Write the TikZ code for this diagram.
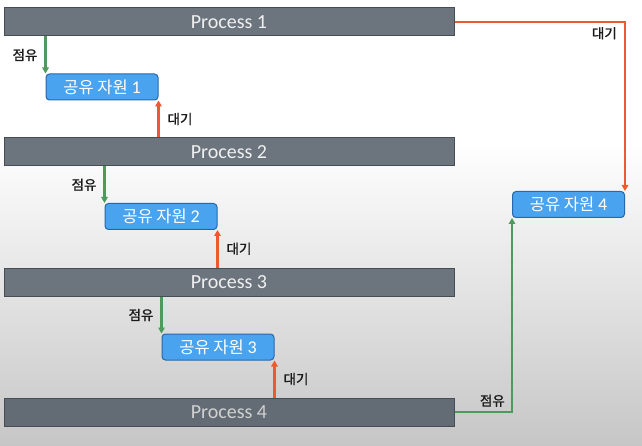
\documentclass[tikz,border=0pt]{standalone}
\usepackage{fontspec}
\setmainfont{Carlito}
\newfontfamily\kr{Noto Sans CJK KR}
\newfontfamily\krb[FakeBold=1.2]{Noto Sans CJK KR}
\usetikzlibrary{arrows.meta}
\definecolor{bargray}{HTML}{6C757E}
\definecolor{barborder}{HTML}{474D54}
\definecolor{resblue}{HTML}{4AA3EE}
\definecolor{resborder}{HTML}{2767AD}
\definecolor{occgreen}{HTML}{4E9A5C}
\definecolor{waitred}{HTML}{EE5A2F}
\definecolor{bgbottom}{HTML}{C6C6C6}
\definecolor{lbl}{HTML}{1A1A1A}
\newcommand{\resnum}[1]{{\fontsize{18}{18}\selectfont #1}}
\begin{document}
\begin{tikzpicture}[x=1pt,y=-1pt,
  proc/.style={draw=barborder, line width=1pt, fill=bargray, minimum width=450pt, minimum height=28pt,
    inner sep=0pt, text=white!94!black, font=\fontsize{20}{20}\selectfont},
  res/.style={draw=resborder, line width=1pt, fill=resblue, rounded corners=3.5pt, minimum width=112pt,
    minimum height=26pt, inner sep=0pt, text=white, font=\fontsize{16.5}{16.5}\selectfont},
  occ/.style={draw=occgreen, line width=2.2pt, -{Triangle[length=6pt,width=6.5pt]}},
  wait/.style={draw=waitred, line width=2.2pt, -{Triangle[length=6pt,width=6.5pt]}},
  lab/.style={text=lbl, font=\krb\fontsize{13.5}{13.5}\selectfont, inner sep=0pt}
]
\useasboundingbox (0,0) rectangle (642,446);
\fill[white] (0,0) rectangle (642,446);
\shade[top color=white, bottom color=bgbottom] (0,140) rectangle (642,446);

\node[proc] (p1) at (229,22) {Process 1};
\node[proc] (p2) at (229,152) {Process 2};
\node[proc] (p3) at (229,282) {Process 3};
\node[proc, fill=bargray!92!black, text=white!82!black] (p4) at (229,412) {Process 4};

\node[res] (r1) at (102,87) {{\kr 공유 자원} \resnum{1}};
\node[res] (r2) at (161,216.5) {{\kr 공유 자원} \resnum{2}};
\node[res] (r3) at (218,347) {{\kr 공유 자원} \resnum{3}};
\node[res] (r4) at (568.5,204.5) {{\kr 공유 자원} \resnum{4}};

\draw[occ] (p1.south -| r1.north west) -- node[lab, left, xshift=-7pt] (l1) {점유} (r1.north west);
\draw[wait] (p2.north -| r1.south east) -- node[lab, right, xshift=8pt] (l2) {대기} (r1.south east);
\draw[occ] (p2.south -| r2.north west) -- node[lab, left, xshift=-7pt] (l3) {점유} (r2.north west);
\draw[wait] (p3.north -| r2.south east) -- node[lab, right, xshift=8pt] (l4) {대기} (r2.south east);
\draw[occ] (p3.south -| r3.north west) -- node[lab, left, xshift=-7pt] (l5) {점유} (r3.north west);
\draw[wait] (p4.north -| r3.south east) -- node[lab, right, xshift=8pt] (l6) {대기} (r3.south east);

\coordinate (c1) at (p1.east -| r4.north east);
\draw[wait] (p1.east) -- (c1) -- (r4.north east);
\node[lab, below left, xshift=-8pt, yshift=-5pt] (l7) at (c1) {대기};

\coordinate (c2) at (p4.east -| r4.south west);
\draw[occ] (p4.east) -- (c2) -- (r4.south west);
\node[lab, above left, xshift=-7pt, yshift=5pt] (l8) at (c2) {점유};
\end{tikzpicture}
\end{document}
